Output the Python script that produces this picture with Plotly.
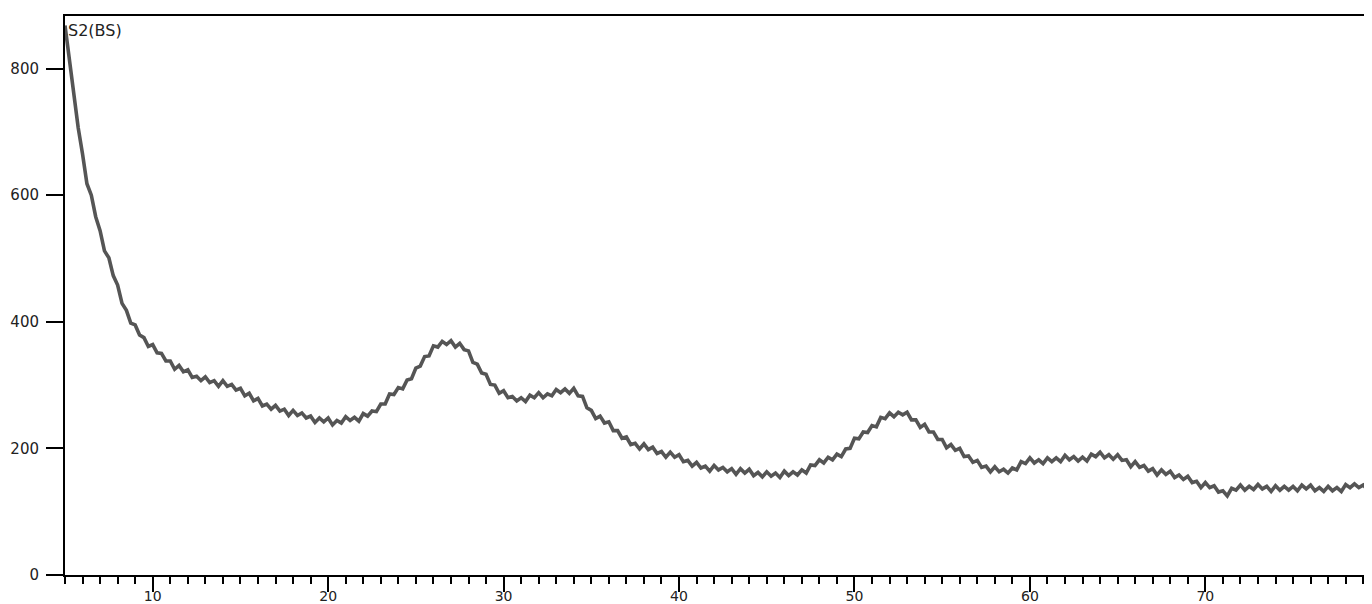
import plotly.graph_objects as go

# Trace (x grid: 5.00 .. 79.50 step 0.25)
x_start = 5.0
x_step = 0.25
intensity = [
    868, 812, 752, 707, 665, 618, 600, 566, 544, 512, 501, 473, 458, 429, 418, 398,
    395, 379, 375, 361, 364, 351, 350, 338, 338, 325, 331, 321, 324, 312, 314, 307,
    313, 304, 307, 298, 307, 298, 301, 292, 295, 283, 287, 275, 279, 267, 270, 262,
    268, 259, 262, 252, 260, 252, 256, 248, 251, 241, 248, 242, 248, 237, 244, 240,
    250, 244, 249, 243, 255, 251, 259, 258, 270, 270, 286, 285, 296, 294, 308, 310,
    327, 330, 345, 346, 362, 360, 369, 364, 370, 360, 366, 356, 354, 336, 333, 319,
    317, 301, 300, 287, 291, 280, 282, 275, 280, 274, 284, 280, 288, 280, 286, 283,
    293, 288, 294, 287, 295, 283, 282, 264, 260, 247, 251, 240, 242, 228, 228, 216,
    218, 206, 208, 199, 207, 198, 202, 192, 195, 186, 194, 186, 190, 179, 181, 172,
    178, 169, 172, 164, 173, 166, 170, 163, 168, 159, 168, 161, 167, 157, 162, 155,
    163, 156, 161, 154, 164, 157, 163, 158, 166, 161, 174, 173, 182, 177, 186, 182,
    191, 187, 199, 200, 216, 215, 226, 225, 236, 234, 249, 247, 256, 250, 257, 253,
    257, 245, 245, 233, 238, 226, 226, 214, 214, 201, 206, 197, 200, 187, 188, 178,
    181, 170, 172, 163, 171, 163, 167, 161, 169, 166, 179, 176, 185, 177, 182, 176,
    185, 179, 185, 179, 189, 182, 187, 180, 186, 180, 191, 187, 194, 185, 190, 183,
    190, 181, 182, 171, 179, 170, 173, 164, 168, 158, 166, 159, 164, 154, 158, 151,
    156, 146, 148, 138, 146, 138, 141, 131, 133, 125, 137, 134, 142, 134, 140, 135,
    143, 136, 140, 132, 141, 134, 140, 134, 140, 133, 142, 136, 142, 133, 138, 132,
    140, 133, 138, 132, 143, 138, 144, 138, 142, 134, 128,
]
two_theta = [x_start + x_step * i for i in range(len(intensity))]

x_ticks = [10, 20, 30, 40, 50, 60, 70]
y_ticks = [0, 200, 400, 600, 800]
label = "S2(BS)"

fig = go.Figure()
fig.add_trace(go.Scatter(
    x=two_theta, y=intensity, mode="lines",
    line=dict(color="#555555", width=3.6),
    showlegend=False, hoverinfo="skip",
))

tick_font = dict(family="DejaVu Sans", size=15, color="#222222")
x_tick_font = dict(family="DejaVu Sans", size=14, color="#222222")

# the page body has an 8px margin, so the figure is sized/offset to compensate
fig.update_layout(
    width=1364, height=596,
    margin=dict(l=57, r=0, t=8, b=29),
    paper_bgcolor="white", plot_bgcolor="white",
    xaxis=dict(
        range=[5, 79.5], tickvals=x_ticks, ticktext=[str(v) for v in x_ticks],
        ticks="outside", ticklen=15, tickwidth=2, tickcolor="black",
        showline=True, linewidth=2, linecolor="black", mirror=True,
        showgrid=False, zeroline=False, tickfont=x_tick_font, automargin=False,
        ticklabelstandoff=-8,
        minor=dict(ticks="outside", ticklen=7, tickwidth=2, tickcolor="black",
                   dtick=1, tick0=0, showgrid=False),
    ),
    yaxis=dict(
        range=[0, 883], tickvals=y_ticks, ticktext=[str(v) for v in y_ticks],
        ticks="outside", ticklen=17, tickwidth=2, tickcolor="black",
        showline=True, linewidth=2, linecolor="black",
        showgrid=False, zeroline=False, tickfont=tick_font, automargin=False,
        ticklabelstandoff=4,
    ),
    annotations=[dict(
        text=label, xref="paper", yref="paper", x=0, y=1,
        xanchor="left", yanchor="top", xshift=1, yshift=-3, showarrow=False,
        font=dict(family="DejaVu Sans", size=16, color="#222222"),
    )],
)

fig.write_html("out.html")
